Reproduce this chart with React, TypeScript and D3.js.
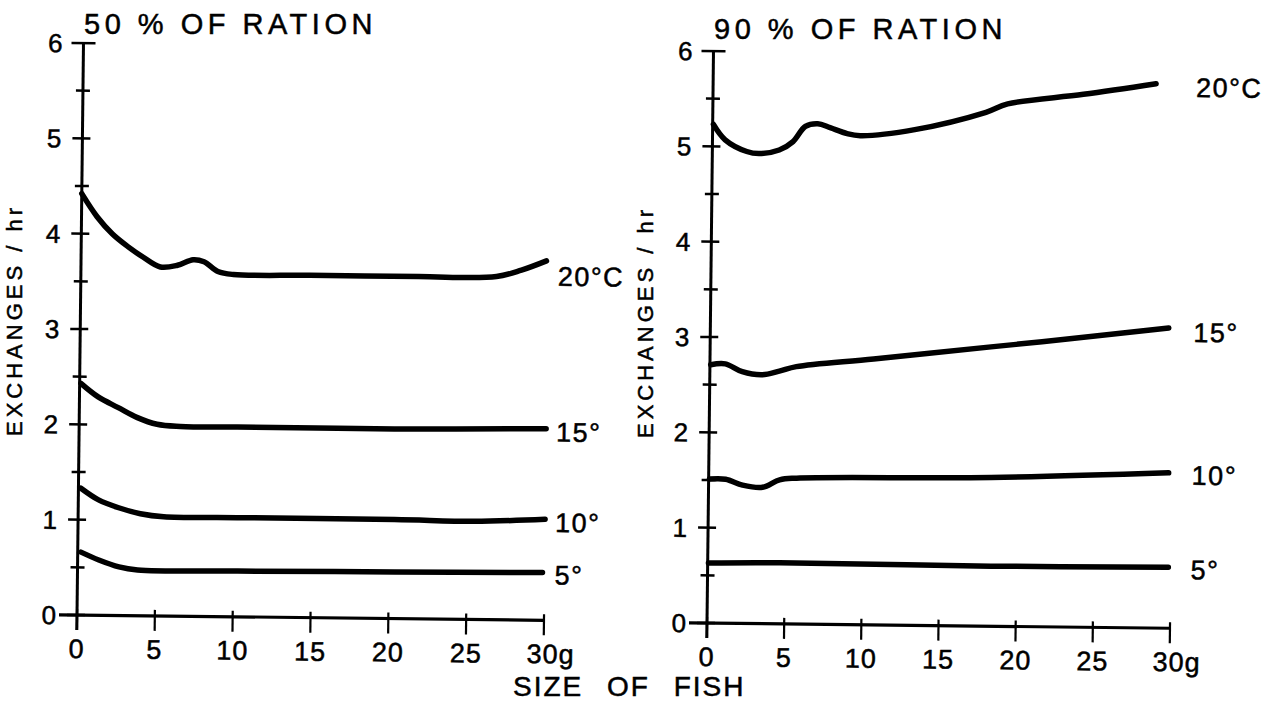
import React from 'react';
import * as d3 from 'd3';

// ---- axis ticks ----
const sizeTicks = [0, 5, 10, 15, 20, 25, 30];
const sizeTickLabels = ['0', '5', '10', '15', '20', '25', '30g'];
const rateTicks = [0, 0.5, 1, 1.5, 2, 2.5, 3, 3.5, 4, 4.5, 5, 5.5, 6];
const rateTickLabels = ['0', '', '1', '', '2', '', '3', '', '4', '', '5', '', '6'];

const panelTitles = ['50 % OF RATION', '90 % OF RATION'];
const yAxisTitle = 'EXCHANGES / hr';
const xAxisTitle = 'SIZE OF FISH';

// ---- 50 % of ration ----
const half20Label = '20°C';
const half20Size = [0, 1, 2, 3, 4, 5.1, 6.2, 7.2, 7.9, 8.8, 9.8, 14.7, 21.7, 26.7, 28.3, 29.9];
const half20Rate = [4.42, 4.18, 4.0, 3.87, 3.76, 3.66, 3.68, 3.74, 3.72, 3.62, 3.59, 3.59, 3.59, 3.6, 3.67, 3.77];

const half15Label = '15°';
const half15Size = [0.08, 1.2, 2.5, 3.7, 5.0, 6.5, 10.15, 20.25, 30];
const half15Rate = [2.43, 2.29, 2.18, 2.08, 2.01, 1.99, 1.99, 1.99, 2.01];

const half10Label = '10°';
const half10Size = [0.16, 1.3, 2.6, 4.0, 5.5, 10.22, 20.32, 25.43, 30];
const half10Rate = [1.33, 1.21, 1.13, 1.07, 1.04, 1.04, 1.04, 1.03, 1.06];

const half5Label = '5°';
const half5Size = [0.21, 1.36, 2.66, 3.86, 10.27, 20.37, 29.87];
const half5Rate = [0.66, 0.58, 0.51, 0.48, 0.48, 0.49, 0.5];

// ---- 90 % of ration ----
const full20Label = '20°C';
const full20Size = [0.05, 0.82, 2.23, 3.03, 4.33, 5.22, 6.01, 6.81, 7.61, 8.72, 9.57, 13.1, 17.7, 19.1, 24.0, 28.7];
const full20Rate = [5.23, 5.07, 4.95, 4.93, 4.97, 5.06, 5.22, 5.25, 5.21, 5.15, 5.13, 5.2, 5.39, 5.48, 5.59, 5.71];

const full15Label = '15°';
const full15Size = [0.05, 1.0, 2.1, 3.4, 4.5, 5.6, 10.6, 18.2, 21.5, 29.7];
const full15Rate = [2.71, 2.72, 2.64, 2.61, 2.65, 2.7, 2.79, 2.93, 2.99, 3.15];

const full10Label = '10°';
const full10Size = [0.05, 1.1, 2.2, 3.5, 4.6, 5.7, 18.3, 29.8];
const full10Rate = [1.51, 1.51, 1.45, 1.43, 1.51, 1.53, 1.56, 1.63];

const full5Label = '5°';
const full5Size = [0.05, 4.65, 18.35, 29.85];
const full5Rate = [0.63, 0.64, 0.63, 0.64];

type Series = { label: string; size: number[]; rate: number[] };

const panels = [
  {
    title: panelTitles[0],
    series: [
      { label: half20Label, size: half20Size, rate: half20Rate },
      { label: half15Label, size: half15Size, rate: half15Rate },
      { label: half10Label, size: half10Size, rate: half10Rate },
      { label: half5Label, size: half5Size, rate: half5Rate },
    ] as Series[],
    layout: {
      ox: 77, oy: 615, w: 467, h: 572,
      titleX: 84, titleY: 34,
      yTitleX: 22, yTitleY: 320,
      labelDx: 10, labelDy: [15, 3, 3, 2],
    },
  },
  {
    title: panelTitles[1],
    series: [
      { label: full20Label, size: full20Size, rate: full20Rate },
      { label: full15Label, size: full15Size, rate: full15Rate },
      { label: full10Label, size: full10Size, rate: full10Rate },
      { label: full5Label, size: full5Size, rate: full5Rate },
    ] as Series[],
    layout: {
      ox: 707, oy: 623, w: 463, h: 572,
      titleX: 714, titleY: 39,
      yTitleX: 653, yTitleY: 322,
      labelDx: 20, labelDy: [3, 4, 2, 2],
    },
  },
];

const FONT = '"Liberation Sans", Arial, Helvetica, sans-serif';
const TILT = 0.65;
const INK = { fill: '#000', stroke: '#000', strokeWidth: 0.5 };

function Panel({ p }: { p: (typeof panels)[number] }) {
  const L = p.layout;
  const x = d3.scaleLinear().domain([0, 30]).range([0, L.w]);
  const y = d3.scaleLinear().domain([0, 6]).range([0, -L.h]);
  const line = d3
    .line<[number, number]>()
    .x((d) => x(d[0]))
    .y((d) => y(d[1]))
    .curve(d3.curveCatmullRom.alpha(0.5));

  return (
    <g>
      <text
        x={L.titleX}
        y={L.titleY}
        fontFamily={FONT}
        fontSize={29}
        letterSpacing={4.5}
        {...INK}
      >
        {p.title}
      </text>
      <text
        transform={`translate(${L.yTitleX},${L.yTitleY}) rotate(-90)`}
        textAnchor="middle"
        fontFamily={FONT}
        fontSize={22}
        letterSpacing={4}
        {...INK}
      >
        {yAxisTitle}
      </text>
      <g transform={`translate(${L.ox},${L.oy}) rotate(${TILT})`}>
        {/* y axis */}
        <line x1={0} x2={0} y1={y(6)} y2={15} stroke="#000" strokeWidth={3} />
        {rateTicks.map((t, i) => {
          const major = t % 1 === 0;
          const top = t === 6;
          const x1 = top ? -12 : major ? -10 : -7;
          const x2 = top ? 12 : major ? 8 : 7;
          return (
            <g key={'ry' + t}>
              <line x1={x1} x2={x2} y1={y(t)} y2={y(t)} stroke="#000" strokeWidth={2.5} />
              {rateTickLabels[i] && (
                <text
                  x={-21}
                  y={y(t)}
                  dy="0.36em"
                  textAnchor="end"
                  fontFamily={FONT}
                  fontSize={26}
                  {...INK}
                >
                  {rateTickLabels[i]}
                </text>
              )}
            </g>
          );
        })}
        {/* x axis */}
        <line x1={-18} x2={x(30)} y1={0} y2={0} stroke="#000" strokeWidth={3.2} />
        {sizeTicks.map((t, i) => {
          const last = i === sizeTicks.length - 1;
          return (
            <g key={'sx' + t}>
              <line x1={x(t)} x2={x(t)} y1={-6} y2={15} stroke="#000" strokeWidth={2.2} />
              <text
                x={last ? x(t) - 17 : x(t)}
                y={43}
                textAnchor={last ? 'start' : 'middle'}
                fontFamily={FONT}
                fontSize={27}
                letterSpacing={1}
                {...INK}
              >
                {sizeTickLabels[i]}
              </text>
            </g>
          );
        })}
        {/* curves */}
        {p.series.map((s, k) => {
          const pts = s.size.map((v, j) => [v, s.rate[j]] as [number, number]);
          const end = s.rate[s.rate.length - 1];
          return (
            <g key={s.label + k}>
              <path
                d={line(pts) || ''}
                fill="none"
                stroke="#000"
                strokeWidth={5.5}
                strokeLinecap="round"
                strokeLinejoin="round"
              />
              <text
                x={x(30) + L.labelDx}
                y={y(end) + L.labelDy[k]}
                dy="0.36em"
                fontFamily={FONT}
                fontSize={27}
                letterSpacing={1.5}
                {...INK}
              >
                {s.label}
              </text>
            </g>
          );
        })}
      </g>
    </g>
  );
}

export default function App() {
  return (
    <svg
      width={1281}
      height={702}
      viewBox="0 0 1281 702"
      style={{ position: 'absolute', left: 0, top: 0, background: '#fff', display: 'block' }}
    >
      <rect width={1281} height={702} fill="#fff" />
      {panels.map((p, i) => (
        <Panel key={i} p={p} />
      ))}
      <text
        x={513}
        y={696}
        fontFamily={FONT}
        fontSize={28}
        letterSpacing={2}
        wordSpacing={14}
        {...INK}
      >
        {xAxisTitle}
      </text>
    </svg>
  );
}
